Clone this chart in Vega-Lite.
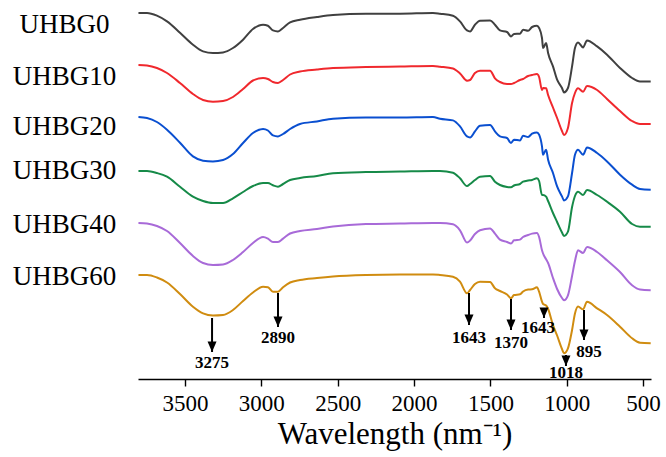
{
  "$schema": "https://vega.github.io/schema/vega-lite/v6.json",
  "autosize": {"type": "none"},
  "padding": {"left": 138, "top": 0, "right": 15, "bottom": 78},
  "width": 513,
  "height": 379,
  "background": "white",
  "config": {"view": {"stroke": null}},
  "datasets": {
    "curves": [
      {"s":"UHBG0","w":3805,"t":366},{"s":"UHBG0","w":3749,"t":366},{"s":"UHBG0","w":3684,"t":363.3},{"s":"UHBG0","w":3618,"t":357.6},{"s":"UHBG0","w":3533,"t":346.3},{"s":"UHBG0","w":3448,"t":334.3},{"s":"UHBG0","w":3382,"t":327.6},{"s":"UHBG0","w":3317,"t":326},{"s":"UHBG0","w":3251,"t":326.6},{"s":"UHBG0","w":3186,"t":331},
      {"s":"UHBG0","w":3120,"t":339.3},{"s":"UHBG0","w":3055,"t":350},{"s":"UHBG0","w":2989,"t":354.3},{"s":"UHBG0","w":2957,"t":353.3},{"s":"UHBG0","w":2924,"t":348.6},{"s":"UHBG0","w":2891,"t":347.6},{"s":"UHBG0","w":2858,"t":351},{"s":"UHBG0","w":2812,"t":356.6},{"s":"UHBG0","w":2747,"t":359.3},{"s":"UHBG0","w":2636,"t":362},
      {"s":"UHBG0","w":2531,"t":364},{"s":"UHBG0","w":2315,"t":365.3},{"s":"UHBG0","w":2092,"t":365.3},{"s":"UHBG0","w":1876,"t":366},{"s":"UHBG0","w":1830,"t":365.3},{"s":"UHBG0","w":1745,"t":363.3},{"s":"UHBG0","w":1699,"t":357.6},{"s":"UHBG0","w":1653,"t":348.6},{"s":"UHBG0","w":1633,"t":347.6},{"s":"UHBG0","w":1601,"t":354.3},
      {"s":"UHBG0","w":1568,"t":358.3},{"s":"UHBG0","w":1502,"t":358.6},{"s":"UHBG0","w":1470,"t":354.3},{"s":"UHBG0","w":1437,"t":348.6},{"s":"UHBG0","w":1391,"t":347},{"s":"UHBG0","w":1365,"t":342.6},{"s":"UHBG0","w":1345,"t":345},{"s":"UHBG0","w":1306,"t":345.3},{"s":"UHBG0","w":1286,"t":349.3},{"s":"UHBG0","w":1253,"t":348.3},
      {"s":"UHBG0","w":1227,"t":352},{"s":"UHBG0","w":1195,"t":353.3},{"s":"UHBG0","w":1181,"t":351},{"s":"UHBG0","w":1162,"t":341},{"s":"UHBG0","w":1155,"t":331},{"s":"UHBG0","w":1135,"t":336},{"s":"UHBG0","w":1122,"t":326},{"s":"UHBG0","w":1090,"t":312.6},{"s":"UHBG0","w":1063,"t":299.3},{"s":"UHBG0","w":1031,"t":291},
      {"s":"UHBG0","w":1018,"t":286.6},{"s":"UHBG0","w":992,"t":291},{"s":"UHBG0","w":965,"t":312.6},{"s":"UHBG0","w":946,"t":331},{"s":"UHBG0","w":926,"t":336.6},{"s":"UHBG0","w":893,"t":331.6},{"s":"UHBG0","w":867,"t":338.6},{"s":"UHBG0","w":801,"t":332.6},{"s":"UHBG0","w":736,"t":324.3},{"s":"UHBG0","w":651,"t":311},
      {"s":"UHBG0","w":572,"t":301},{"s":"UHBG0","w":520,"t":297.6},{"s":"UHBG0","w":450,"t":297.6},

      {"s":"UHBG10","w":3805,"t":314},{"s":"UHBG10","w":3749,"t":313.5},{"s":"UHBG10","w":3684,"t":311},{"s":"UHBG10","w":3618,"t":306},{"s":"UHBG10","w":3533,"t":296},{"s":"UHBG10","w":3448,"t":285},{"s":"UHBG10","w":3382,"t":279},{"s":"UHBG10","w":3317,"t":277.3},{"s":"UHBG10","w":3251,"t":278},{"s":"UHBG10","w":3186,"t":282},
      {"s":"UHBG10","w":3120,"t":290},{"s":"UHBG10","w":3055,"t":298.5},{"s":"UHBG10","w":2989,"t":301},{"s":"UHBG10","w":2957,"t":300},{"s":"UHBG10","w":2924,"t":297},{"s":"UHBG10","w":2891,"t":296},{"s":"UHBG10","w":2858,"t":299},{"s":"UHBG10","w":2812,"t":304.5},{"s":"UHBG10","w":2747,"t":307.5},{"s":"UHBG10","w":2636,"t":309.5},
      {"s":"UHBG10","w":2531,"t":311},{"s":"UHBG10","w":2315,"t":312},{"s":"UHBG10","w":2092,"t":312.5},{"s":"UHBG10","w":1876,"t":313},{"s":"UHBG10","w":1830,"t":312.3},{"s":"UHBG10","w":1745,"t":310.5},{"s":"UHBG10","w":1699,"t":305.5},{"s":"UHBG10","w":1653,"t":298.3},{"s":"UHBG10","w":1633,"t":299},{"s":"UHBG10","w":1601,"t":306},
      {"s":"UHBG10","w":1568,"t":308.3},{"s":"UHBG10","w":1502,"t":308.3},{"s":"UHBG10","w":1470,"t":300.7},{"s":"UHBG10","w":1437,"t":297},{"s":"UHBG10","w":1391,"t":295},{"s":"UHBG10","w":1365,"t":295},{"s":"UHBG10","w":1345,"t":296},{"s":"UHBG10","w":1306,"t":299},{"s":"UHBG10","w":1286,"t":300},{"s":"UHBG10","w":1253,"t":303},
      {"s":"UHBG10","w":1227,"t":304},{"s":"UHBG10","w":1195,"t":305},{"s":"UHBG10","w":1181,"t":302},{"s":"UHBG10","w":1162,"t":289},{"s":"UHBG10","w":1155,"t":291},{"s":"UHBG10","w":1135,"t":290.7},{"s":"UHBG10","w":1122,"t":284},{"s":"UHBG10","w":1090,"t":271.5},{"s":"UHBG10","w":1063,"t":261},{"s":"UHBG10","w":1031,"t":248},
      {"s":"UHBG10","w":1018,"t":244},{"s":"UHBG10","w":992,"t":251},{"s":"UHBG10","w":965,"t":276},{"s":"UHBG10","w":946,"t":286},{"s":"UHBG10","w":926,"t":290.7},{"s":"UHBG10","w":893,"t":287.3},{"s":"UHBG10","w":867,"t":293},{"s":"UHBG10","w":801,"t":289},{"s":"UHBG10","w":736,"t":280},{"s":"UHBG10","w":651,"t":268},
      {"s":"UHBG10","w":572,"t":258},{"s":"UHBG10","w":520,"t":255},{"s":"UHBG10","w":450,"t":255},

      {"s":"UHBG20","w":3805,"t":262},{"s":"UHBG20","w":3749,"t":261},{"s":"UHBG20","w":3684,"t":257},{"s":"UHBG20","w":3618,"t":249.3},{"s":"UHBG20","w":3533,"t":236.3},{"s":"UHBG20","w":3448,"t":222.6},{"s":"UHBG20","w":3382,"t":218.3},{"s":"UHBG20","w":3317,"t":217.6},{"s":"UHBG20","w":3251,"t":219},{"s":"UHBG20","w":3186,"t":225},
      {"s":"UHBG20","w":3120,"t":236},{"s":"UHBG20","w":3055,"t":246},{"s":"UHBG20","w":2989,"t":250},{"s":"UHBG20","w":2957,"t":248.5},{"s":"UHBG20","w":2924,"t":243.6},{"s":"UHBG20","w":2891,"t":242.6},{"s":"UHBG20","w":2858,"t":245},{"s":"UHBG20","w":2812,"t":250},{"s":"UHBG20","w":2747,"t":255},{"s":"UHBG20","w":2636,"t":257.6},
      {"s":"UHBG20","w":2531,"t":260.3},{"s":"UHBG20","w":2315,"t":261.5},{"s":"UHBG20","w":2092,"t":261.5},{"s":"UHBG20","w":1876,"t":262},{"s":"UHBG20","w":1830,"t":260.3},{"s":"UHBG20","w":1745,"t":258.6},{"s":"UHBG20","w":1699,"t":252.6},{"s":"UHBG20","w":1653,"t":242.6},{"s":"UHBG20","w":1633,"t":241.6},{"s":"UHBG20","w":1601,"t":247.6},
      {"s":"UHBG20","w":1568,"t":253.3},{"s":"UHBG20","w":1502,"t":254},{"s":"UHBG20","w":1470,"t":247.6},{"s":"UHBG20","w":1437,"t":242.6},{"s":"UHBG20","w":1391,"t":241},{"s":"UHBG20","w":1365,"t":236},{"s":"UHBG20","w":1345,"t":239.3},{"s":"UHBG20","w":1306,"t":238.6},{"s":"UHBG20","w":1286,"t":243.3},{"s":"UHBG20","w":1253,"t":242},
      {"s":"UHBG20","w":1227,"t":245.3},{"s":"UHBG20","w":1195,"t":246.6},{"s":"UHBG20","w":1181,"t":244.3},{"s":"UHBG20","w":1162,"t":232.6},{"s":"UHBG20","w":1155,"t":224.3},{"s":"UHBG20","w":1135,"t":229.3},{"s":"UHBG20","w":1122,"t":219.3},{"s":"UHBG20","w":1090,"t":206},{"s":"UHBG20","w":1063,"t":192.6},{"s":"UHBG20","w":1031,"t":182.6},
      {"s":"UHBG20","w":1018,"t":178.6},{"s":"UHBG20","w":992,"t":182.6},{"s":"UHBG20","w":965,"t":206},{"s":"UHBG20","w":946,"t":224.3},{"s":"UHBG20","w":926,"t":229.3},{"s":"UHBG20","w":893,"t":224.3},{"s":"UHBG20","w":867,"t":231.6},{"s":"UHBG20","w":801,"t":226},{"s":"UHBG20","w":736,"t":217.6},{"s":"UHBG20","w":651,"t":204.3},
      {"s":"UHBG20","w":572,"t":194.3},{"s":"UHBG20","w":520,"t":190},{"s":"UHBG20","w":450,"t":189.3},

      {"s":"UHBG30","w":3805,"t":208},{"s":"UHBG30","w":3749,"t":208},{"s":"UHBG30","w":3684,"t":206},{"s":"UHBG30","w":3618,"t":202.3},{"s":"UHBG30","w":3533,"t":192.3},{"s":"UHBG30","w":3448,"t":182.3},{"s":"UHBG30","w":3382,"t":178},{"s":"UHBG30","w":3317,"t":176},{"s":"UHBG30","w":3251,"t":176},{"s":"UHBG30","w":3186,"t":180.7},
      {"s":"UHBG30","w":3120,"t":187},{"s":"UHBG30","w":3055,"t":193},{"s":"UHBG30","w":2989,"t":196},{"s":"UHBG30","w":2957,"t":196},{"s":"UHBG30","w":2924,"t":193.7},{"s":"UHBG30","w":2891,"t":192.3},{"s":"UHBG30","w":2858,"t":195},{"s":"UHBG30","w":2812,"t":199},{"s":"UHBG30","w":2747,"t":201},{"s":"UHBG30","w":2636,"t":203},
      {"s":"UHBG30","w":2531,"t":205.7},{"s":"UHBG30","w":2315,"t":207},{"s":"UHBG30","w":2092,"t":207.5},{"s":"UHBG30","w":1876,"t":208},{"s":"UHBG30","w":1830,"t":208},{"s":"UHBG30","w":1745,"t":206.3},{"s":"UHBG30","w":1699,"t":200.7},{"s":"UHBG30","w":1653,"t":193},{"s":"UHBG30","w":1633,"t":195},{"s":"UHBG30","w":1601,"t":199},
      {"s":"UHBG30","w":1568,"t":202.3},{"s":"UHBG30","w":1502,"t":203},{"s":"UHBG30","w":1470,"t":197.3},{"s":"UHBG30","w":1437,"t":194},{"s":"UHBG30","w":1391,"t":192},{"s":"UHBG30","w":1365,"t":191.7},{"s":"UHBG30","w":1345,"t":193.5},{"s":"UHBG30","w":1306,"t":195},{"s":"UHBG30","w":1286,"t":197.3},{"s":"UHBG30","w":1253,"t":198.5},
      {"s":"UHBG30","w":1227,"t":199},{"s":"UHBG30","w":1195,"t":200.7},{"s":"UHBG30","w":1181,"t":198},{"s":"UHBG30","w":1162,"t":184},{"s":"UHBG30","w":1155,"t":184},{"s":"UHBG30","w":1135,"t":182.3},{"s":"UHBG30","w":1122,"t":178},{"s":"UHBG30","w":1090,"t":166},{"s":"UHBG30","w":1063,"t":157},{"s":"UHBG30","w":1031,"t":146.5},
      {"s":"UHBG30","w":1018,"t":143},{"s":"UHBG30","w":992,"t":147.3},{"s":"UHBG30","w":965,"t":172},{"s":"UHBG30","w":946,"t":183},{"s":"UHBG30","w":926,"t":187.3},{"s":"UHBG30","w":893,"t":184},{"s":"UHBG30","w":867,"t":189},{"s":"UHBG30","w":801,"t":184},{"s":"UHBG30","w":736,"t":177.3},{"s":"UHBG30","w":651,"t":167.3},
      {"s":"UHBG30","w":572,"t":155},{"s":"UHBG30","w":520,"t":152.3},{"s":"UHBG30","w":450,"t":152.3},

      {"s":"UHBG40","w":3805,"t":156},{"s":"UHBG40","w":3749,"t":155.5},{"s":"UHBG40","w":3684,"t":153},{"s":"UHBG40","w":3618,"t":148},{"s":"UHBG40","w":3533,"t":136},{"s":"UHBG40","w":3448,"t":123},{"s":"UHBG40","w":3382,"t":116},{"s":"UHBG40","w":3317,"t":114},{"s":"UHBG40","w":3251,"t":114.5},{"s":"UHBG40","w":3186,"t":119},
      {"s":"UHBG40","w":3120,"t":127},{"s":"UHBG40","w":3055,"t":136},{"s":"UHBG40","w":2989,"t":142},{"s":"UHBG40","w":2957,"t":140.4},{"s":"UHBG40","w":2924,"t":137},{"s":"UHBG40","w":2891,"t":137},{"s":"UHBG40","w":2858,"t":140.4},{"s":"UHBG40","w":2812,"t":145.5},{"s":"UHBG40","w":2747,"t":148},{"s":"UHBG40","w":2636,"t":150},
      {"s":"UHBG40","w":2531,"t":152.5},{"s":"UHBG40","w":2315,"t":155},{"s":"UHBG40","w":2092,"t":155.5},{"s":"UHBG40","w":1876,"t":156},{"s":"UHBG40","w":1830,"t":156},{"s":"UHBG40","w":1745,"t":154.7},{"s":"UHBG40","w":1699,"t":148.7},{"s":"UHBG40","w":1653,"t":136.4},{"s":"UHBG40","w":1633,"t":138.4},{"s":"UHBG40","w":1601,"t":145},
      {"s":"UHBG40","w":1568,"t":148.7},{"s":"UHBG40","w":1502,"t":150.4},{"s":"UHBG40","w":1470,"t":145.4},{"s":"UHBG40","w":1437,"t":139.4},{"s":"UHBG40","w":1391,"t":137},{"s":"UHBG40","w":1365,"t":135.4},{"s":"UHBG40","w":1345,"t":138.7},{"s":"UHBG40","w":1306,"t":139.4},{"s":"UHBG40","w":1286,"t":142},{"s":"UHBG40","w":1253,"t":144},
      {"s":"UHBG40","w":1227,"t":145.4},{"s":"UHBG40","w":1195,"t":146},{"s":"UHBG40","w":1181,"t":142},{"s":"UHBG40","w":1162,"t":128.7},{"s":"UHBG40","w":1155,"t":125.5},{"s":"UHBG40","w":1135,"t":119.7},{"s":"UHBG40","w":1122,"t":116},{"s":"UHBG40","w":1090,"t":101},{"s":"UHBG40","w":1063,"t":90},{"s":"UHBG40","w":1031,"t":81},
      {"s":"UHBG40","w":1018,"t":78.7},{"s":"UHBG40","w":992,"t":83.7},{"s":"UHBG40","w":965,"t":103},{"s":"UHBG40","w":946,"t":118},{"s":"UHBG40","w":926,"t":128.7},{"s":"UHBG40","w":893,"t":126},{"s":"UHBG40","w":867,"t":132},{"s":"UHBG40","w":801,"t":127},{"s":"UHBG40","w":736,"t":118.7},{"s":"UHBG40","w":651,"t":107},
      {"s":"UHBG40","w":572,"t":93.7},{"s":"UHBG40","w":520,"t":89.4},{"s":"UHBG40","w":450,"t":88.7},

      {"s":"UHBG60","w":3805,"t":104},{"s":"UHBG60","w":3749,"t":104},{"s":"UHBG60","w":3684,"t":101.5},{"s":"UHBG60","w":3618,"t":96.5},{"s":"UHBG60","w":3533,"t":85},{"s":"UHBG60","w":3448,"t":72.3},{"s":"UHBG60","w":3382,"t":65.7},{"s":"UHBG60","w":3317,"t":63.5},{"s":"UHBG60","w":3251,"t":64},{"s":"UHBG60","w":3186,"t":69},
      {"s":"UHBG60","w":3120,"t":78},{"s":"UHBG60","w":3055,"t":86.5},{"s":"UHBG60","w":2989,"t":92.3},{"s":"UHBG60","w":2957,"t":91.7},{"s":"UHBG60","w":2924,"t":87.3},{"s":"UHBG60","w":2891,"t":87.3},{"s":"UHBG60","w":2858,"t":91.7},{"s":"UHBG60","w":2812,"t":96.5},{"s":"UHBG60","w":2747,"t":99},{"s":"UHBG60","w":2636,"t":101},
      {"s":"UHBG60","w":2531,"t":102.5},{"s":"UHBG60","w":2315,"t":104},{"s":"UHBG60","w":2092,"t":104.5},{"s":"UHBG60","w":1876,"t":104.5},{"s":"UHBG60","w":1830,"t":104},{"s":"UHBG60","w":1745,"t":102.3},{"s":"UHBG60","w":1699,"t":97.3},{"s":"UHBG60","w":1653,"t":85.7},{"s":"UHBG60","w":1633,"t":89},{"s":"UHBG60","w":1601,"t":95},
      {"s":"UHBG60","w":1568,"t":97.3},{"s":"UHBG60","w":1502,"t":97},{"s":"UHBG60","w":1470,"t":90.7},{"s":"UHBG60","w":1437,"t":88},{"s":"UHBG60","w":1391,"t":84.5},{"s":"UHBG60","w":1365,"t":80.7},{"s":"UHBG60","w":1345,"t":84},{"s":"UHBG60","w":1306,"t":84.7},{"s":"UHBG60","w":1286,"t":87.5},{"s":"UHBG60","w":1253,"t":89.5},
      {"s":"UHBG60","w":1227,"t":89.7},{"s":"UHBG60","w":1195,"t":91.7},{"s":"UHBG60","w":1181,"t":87.3},{"s":"UHBG60","w":1162,"t":77.3},{"s":"UHBG60","w":1155,"t":75},{"s":"UHBG60","w":1135,"t":73.5},{"s":"UHBG60","w":1122,"t":70},{"s":"UHBG60","w":1090,"t":54},{"s":"UHBG60","w":1063,"t":43.5},{"s":"UHBG60","w":1031,"t":30},
      {"s":"UHBG60","w":1018,"t":25.7},{"s":"UHBG60","w":992,"t":30.7},{"s":"UHBG60","w":965,"t":49},{"s":"UHBG60","w":946,"t":65.5},{"s":"UHBG60","w":926,"t":72.5},{"s":"UHBG60","w":893,"t":69.7},{"s":"UHBG60","w":867,"t":77.3},{"s":"UHBG60","w":801,"t":70.7},{"s":"UHBG60","w":736,"t":64},{"s":"UHBG60","w":651,"t":52.3},
      {"s":"UHBG60","w":572,"t":40.7},{"s":"UHBG60","w":520,"t":36.3},{"s":"UHBG60","w":450,"t":35.7}
    ],
    "arrows": [
      {"w":3323,"from":61,"tip":27,"label":"3275","lw":3323,"lt":11},
      {"w":2891,"from":86,"tip":52,"label":"2890","lw":2891,"lt":36},
      {"w":1640,"from":86,"tip":54,"label":"1643","lw":1640,"lt":36},
      {"w":1365,"from":80,"tip":49,"label":"1370","lw":1365,"lt":31},
      {"w":1149,"from":71,"tip":61,"label":"1643","lw":1188,"lt":46},
      {"w":1005,"from":24,"tip":13,"label":"1018","lw":1005,"lt":1},
      {"w":887,"from":69,"tip":39,"label":"895","lw":854,"lt":22}
    ],
    "names": [
      {"s":"UHBG0","w":4290,"t":346},
      {"s":"UHBG10","w":4290,"t":294},
      {"s":"UHBG20","w":4290,"t":244},
      {"s":"UHBG30","w":4290,"t":200},
      {"s":"UHBG40","w":4290,"t":146},
      {"s":"UHBG60","w":4290,"t":94}
    ]
  },
  "layer": [
    {
      "data": {"name": "curves"},
      "mark": {"type": "line", "strokeWidth": 2, "strokeJoin": "round", "interpolate": "monotone"},
      "encoding": {
        "x": {
          "field": "w", "type": "quantitative",
          "scale": {"domain": [448, 3808], "reverse": true, "nice": false, "zero": false},
          "axis": {
            "orient": "bottom",
            "title": "Wavelength (nm⁻¹)",
            "values": [500, 750, 1000, 1250, 1500, 1750, 2000, 2250, 2500, 2750, 3000, 3250, 3500, 3750],
            "labelExpr": "datum.value % 500 === 0 ? datum.label : ''",
            "format": "d",
            "labelOverlap": false,
            "labelFlush": false,
            "grid": false,
            "domainColor": "black",
            "domainWidth": 1.6,
            "tickColor": "black",
            "tickWidth": 1.4,
            "tickSize": {"condition": {"test": "datum.value % 500 === 0", "value": 7}, "value": 4},
            "labelPadding": 6,
            "labelFont": "Liberation Serif",
            "labelFontSize": 23,
            "labelColor": "black",
            "titleFont": "Liberation Serif",
            "titleFontSize": 31,
            "titleFontWeight": "normal",
            "titleColor": "black",
            "titlePadding": 4
          }
        },
        "y": {
          "field": "t", "type": "quantitative",
          "scale": {"domain": [0, 379], "nice": false, "zero": false},
          "axis": null
        },
        "color": {
          "field": "s", "type": "nominal",
          "scale": {
            "domain": ["UHBG0", "UHBG10", "UHBG20", "UHBG30", "UHBG40", "UHBG60"],
            "range": ["#404040", "#f0282d", "#0a4fd0", "#168a48", "#a86ad8", "#d08c10"]
          },
          "legend": null
        },
        "detail": {"field": "s"}
      }
    },
    {
      "data": {"name": "arrows"},
      "mark": {"type": "rule", "color": "black", "strokeWidth": 2},
      "encoding": {
        "x": {"field": "w", "type": "quantitative"},
        "y": {"field": "from", "type": "quantitative", "axis": null},
        "y2": {"field": "tip"}
      }
    },
    {
      "data": {"name": "arrows"},
      "mark": {"type": "point", "shape": "M-0.45,-1.05L0.45,-1.05L0,0Z", "filled": true, "color": "black", "opacity": 1, "size": 400, "strokeWidth": 0},
      "encoding": {
        "x": {"field": "w", "type": "quantitative"},
        "y": {"field": "tip", "type": "quantitative", "axis": null}
      }
    },
    {
      "data": {"name": "arrows"},
      "mark": {"type": "text", "font": "Liberation Serif", "fontWeight": "bold", "fontSize": 17, "align": "center", "baseline": "alphabetic", "color": "black"},
      "encoding": {
        "x": {"field": "lw", "type": "quantitative"},
        "y": {"field": "lt", "type": "quantitative", "axis": null},
        "text": {"field": "label"}
      }
    },
    {
      "data": {"name": "names"},
      "mark": {"type": "text", "font": "Liberation Serif", "fontSize": 27, "align": "center", "baseline": "alphabetic", "color": "black"},
      "encoding": {
        "x": {"field": "w", "type": "quantitative"},
        "y": {"field": "t", "type": "quantitative", "axis": null},
        "text": {"field": "s"}
      }
    }
  ]
}
